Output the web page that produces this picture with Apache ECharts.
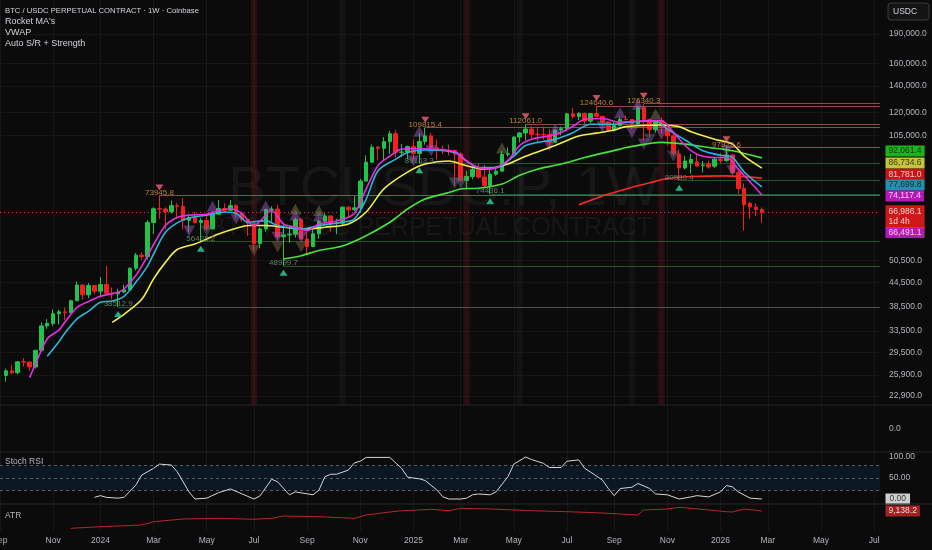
<!DOCTYPE html>
<html><head><meta charset="utf-8">
<script src="https://cdn.jsdelivr.net/npm/echarts@6/dist/echarts.min.js"></script>
<style>html,body{margin:0;padding:0;background:#0b0b0b;}#c{width:932px;height:550px;}</style>
</head><body><div id="c"></div>
<script>
// ---------- DATA ----------
const weekStart = '2023-09-04';
const weekCount = 150;
const MONTHS = ['Jan','Feb','Mar','Apr','May','Jun','Jul','Aug','Sep','Oct','Nov','Dec'];

// weekly candles [open, close, low, high], first one = week of 2023-09-11 (index 1)
const candles = [
[25830,26530,24900,26880],[26530,26250,26000,27480],[26250,27970,26000,28000],[27970,27930,27200,28600],
[27930,27150,26550,28000],[27150,29900,26900,30000],[29900,34500,29700,35200],[34500,35000,33900,35900],
[35000,37050,34500,37950],[37050,37450,34800,37900],[37450,37250,35650,38400],[37250,39950,37150,40200],
[39950,43800,39950,44700],[43800,41370,40200,43900],[41370,43700,40600,44300],[43700,42250,41500,43800],
[42250,43940,40750,45900],[43940,41730,41500,49000],[41730,41580,40280,43200],[41580,42030,38513,42850],
[42030,42580,41800,43880],[42580,48300,42300,48590],[48300,52140,47700,52820],[52140,51730,50630,52980],
[51730,63110,50900,64000],[63110,68360,59000,69000],[68400,68300,64550,73946],[68300,67210,60770,68900],
[67210,69650,66500,71760],[69650,69360,64500,70750],[69360,63920,60660,72800],[63920,64940,59600,66000],
[64940,63120,62800,67200],[63120,63900,56425,64730],[63900,60800,60200,65500],[60800,66270,60750,67400],
[66270,68500,66300,71950],[68500,67760,66600,70600],[67760,69650,67600,71950],[69650,66600,64900,70150],
[66600,64250,63400,67270],[64250,62800,58400,64500],[62800,55850,53500,63800],[55850,60800,54300,61400],
[60800,68150,59800,68350],[68150,68250,63450,69400],[68250,58100,57200,70000],[58100,58700,49000,62700],
[58700,58950,56100,61800],[58950,64200,57800,65000],[64200,57300,57200,64950],[57300,54850,52550,59800],
[54850,59100,54600,60600],[59100,63550,57500,64100],[63550,65600,62700,66500],[65600,62800,59800,65600],
[62800,62850,58900,64500],[62850,69000,62100,69400],[69000,68000,65100,69500],[68000,68750,67500,73600],
[68750,80400,66800,81500],[80400,89800,80200,93400],[89800,98000,89400,99600],[98000,97400,90800,98700],
[97400,101200,90500,104000],[101200,106000,94200,107800],[106000,95100,92200,108300],[95100,95300,92500,99900],
[95300,98300,91300,98900],[98300,94500,91200,102700],[94500,101300,89163,106400],[101300,104700,99500,109815],
[104700,97700,96000,106500],[97700,96500,91200,102500],[96500,96200,94100,98800],[96200,96150,93400,99500],
[96150,94200,78200,96500],[94200,80700,80000,95000],[80700,82600,76600,85300],[82600,86100,81400,87500],
[86100,82300,81600,88800],[82300,78400,77100,88500],[78400,83700,74436,86100],[83700,85200,83000,86500],
[85200,94000,85100,95800],[94000,94300,92800,97900],[94300,104000,93400,104300],[104000,106450,100700,107100],
[106450,109000,102000,112061],[109000,105700,103100,110700],[105700,105600,100400,110400],[105600,105500,102600,110600],
[105500,100900,98200,108900],[100900,108300,100900,108500],[108300,109200,105100,110500],[109200,119100,107500,119500],
[119100,117300,115700,123200],[117300,119400,114700,120200],[119400,114200,111900,119800],[114200,119300,112700,119300],
[119300,117400,116800,124641],[117400,113500,110600,117600],[113500,108300,107300,113600],[108300,111200,107300,113400],
[111200,115300,110600,116800],[115300,115250,114700,117900],[115250,112200,108600,115500],[112200,123500,111600,125500],
[123500,115100,102000,126340],[115100,108600,103500,115900],[108600,114500,106600,114900],[114500,110600,106300,116400],
[110600,104700,98900,110800],[104700,94200,93000,107500],[94200,86800,80580,96600],[86800,90400,86100,93100],
[89300,91300,84000,94200],[90000,87800,87500,94600],[88100,88300,84500,90400],[88800,87300,86500,90500],
[87700,91400,86800,92000],[91400,90600,89300,94800],[90600,93700,90000,97924],[93700,84500,83800,94000],
[84500,77000,74600,86500],[77000,70000,60200,79300],[70600,69100,64500,71300],[69100,68100,65500,70500],
[68100,66986.1,63000,68900]
];

// moving averages: [weekIndex, price]
const maMagenta = [[5,25500],[6,27600],[8,32000],[10,33700],[11,35300],[13,38400],[15,39800],[17,41000],[19,41700],[20,42000],[21,42800],[23,46300],[25,52000],[26,55500],[28,62000],[30,65000],[32,65900],[35,66200],[37,67700],[39,68300],[41,66500],[43,61800],[44,63500],[46,67700],[48,62600],[50,61400],[52,60200],[54,62600],[56,63200],[58,64300],[60,66500],[62,76800],[64,88000],[66,93000],[68,96900],[71,97300],[73,96900],[77,95500],[79,90400],[81,87000],[83,86200],[86,90800],[88,99000],[90,102700],[93,104700],[95,106800],[97,110800],[99,115400],[102,115900],[105,113300],[106,113700],[109,114400],[112,114400],[114,107000],[116,99000],[118,94100],[121,92300],[123,92300],[125,86200],[127,80000],[129,74117.4]];
const maCyan = [[8,28900],[10,31500],[11,33100],[13,35900],[15,37600],[17,39600],[19,39900],[21,41000],[23,44500],[25,49000],[26,52500],[28,59600],[30,63000],[32,64800],[35,65900],[38,67100],[40,66500],[42,63200],[45,63800],[47,62000],[51,60800],[54,62000],[56,62600],[58,63200],[60,64400],[62,72400],[64,85400],[67,91400],[69,95000],[72,96400],[77,95000],[79,90400],[81,87000],[84,87000],[87,93000],[89,99000],[94,102700],[97,106700],[100,112100],[104,112100],[106,113300],[111,114400],[113,108900],[116,102200],[119,96000],[122,93500],[124,92300],[126,84800],[129,77699.8]];
const maYellow = [[19,35200],[21,36900],[24,40300],[26,45400],[28,50000],[30,53900],[33,55700],[35,57300],[37,59000],[40,61000],[42,62000],[45,62000],[48,61400],[52,60800],[55,61400],[59,62600],[62,67100],[65,76800],[69,84700],[72,88800],[76,90400],[79,87900],[82,86200],[86,88800],[89,93000],[94,99000],[98,104600],[101,106400],[104,108400],[106,110500],[112,111600],[115,110500],[117,107300],[121,102700],[124,99800],[126,93000],[129,86734.6]];
const maGreen = [[48,51000],[51,52000],[54,53600],[58,55000],[62,58400],[66,63200],[69,68300],[72,72400],[76,75200],[78,76800],[81,77100],[85,79000],[88,83200],[91,86200],[95,88800],[99,92300],[105,96900],[106,97800],[112,100800],[116,99800],[120,97800],[124,96000],[129,92061.4]];
const maRed = [[98,70000],[102,73700],[106,76800],[110,79600],[113,81600],[117,82600],[123,82900],[129,81781.0]];

// Auto S/R pivots [weekIndex, price]
const pivotHighs = [[27,73945.8],[72,109815.4],[89,112061.0],[101,124640.6],[109,126340.3],[123,97923.6]];
const pivotLows = [[20,38512.9],[34,56425.2],[48,48999.7],[71,89163.3],[83,74436.1],[115,80580.4]];

// Rocket MA signal markers [weekIndex, price]
const sigPurpleUp = [[36,69400],[45,69500],[50,65900],[54,65600],[71,107600],[94,108900],[105,119800],[108,125900]];
const sigPurpleDown = [[32,60100],[40,64400],[47,57900],[51,58000],[70,90400],[73,96000],[93,99000],[102,110500],[107,106800],[109,99800],[112,105800],[123,96000],[124,85400]];
const sigBrownDown = [[43,53600],[47,54700],[51,54700]];
const sigOliveUp = [[50,68300],[54,67700],[85,97500],[111,118800]];
const sigSlateDown = [[35,60100],[77,79500],[78,79500],[110,102700],[114,93000]];

// highlighted weeks
const shadeRedWeeks = [43,79,112];
const shadeGrayWeeks = [58,88,107];

// price axis tick labels
const priceTicks = [190000,160000,140000,120000,105000,50500,44500,38500,33500,29500,25900,22900];
const lastPrice = 66986.1;
const lastPriceTimer = '1d 4h';
const maLastValues = [92061.4, 86734.6, 81781.0, 77699.8, 74117.4];
const vwapLast = 66491.1;

// Stoch RSI [weekIndex, value]
const stochRsi = [[16,4],[17,8],[18,4],[20,2],[21,4],[23,33],[24,57],[26,73],[27,83],[29,81],[30,65],[32,17],[33,0],[35,2],[37,15],[39,24],[41,12],[43,0],[44,7],[46,47],[47,41],[49,10],[50,17],[53,10],[54,21],[55,53],[56,59],[57,59],[59,69],[60,86],[61,90],[62,99],[64,99],[66,99],[68,73],[69,52],[71,48],[72,44],[74,21],[75,5],[76,0],[78,0],[79,2],[80,10],[81,12],[83,10],[84,17],[86,53],[87,83],[89,100],[90,94],[92,85],[93,75],[95,75],[96,90],[98,93],[99,73],[100,64],[102,45],[103,25],[104,8],[105,25],[107,28],[108,37],[110,25],[111,12],[113,10],[115,0],[117,5],[118,8],[120,5],[122,17],[123,32],[124,29],[125,17],[127,2],[129,0]];
const stochLevels = [80,50,20];
const stochTicks = [100,50];
// ATR [weekIndex, value]
const atr = [[12,1230],[17,1970],[24,2740],[26,4250],[31,5480],[37,5800],[43,5350],[46,5800],[48,6860],[54,6540],[60,5800],[62,7310],[65,8360],[68,9280],[71,9600],[73,9920],[76,9280],[78,10370],[83,10050],[90,9280],[96,8820],[101,8360],[105,7770],[108,7310],[109,9600],[113,10050],[115,10830],[117,10370],[120,9600],[123,8820],[124,8680],[126,10050],[129,9138.2]];

// ---------- BUILD ----------
const L = Math.log;
const FONT = '"Liberation Sans", Arial, sans-serif';
const lastIdx = weekCount - 1;
const cats = [];
const t0 = Date.parse(weekStart + 'T00:00:00Z');
for (let i = 0; i < weekCount; i++) cats.push(new Date(t0 + i * 7 * 86400000).toISOString().slice(0, 10));
const isMonthTick = (i) => { const d = new Date(cats[i] + 'T00:00:00Z'); return d.getUTCDate() <= 7 && d.getUTCMonth() % 2 === 0; };
const monthLabel = (v) => { const d = new Date(v + 'T00:00:00Z'); return d.getUTCMonth() === 0 ? String(d.getUTCFullYear()) : MONTHS[d.getUTCMonth()]; };
const fmt = (v, d) => v.toLocaleString('en-US', {minimumFractionDigits: d, maximumFractionDigits: d});
const toLn = (arr) => arr.map(p => [p[0], L(p[1])]);

const yLo = L(21730), yHi = L(231600);

const grids = [
  {left: 0, right: 52, top: 0, height: 405},
  {left: 0, right: 52, top: 405, height: 47},
  {left: 0, right: 52, top: 452, height: 52},
  {left: 0, right: 52, top: 504, height: 27}
].map(g => Object.assign(g, {outerBoundsMode: 'none', containLabel: false}));

const xAxes = grids.map((g, gi) => ({
  type: 'category', gridIndex: gi, data: cats, boundaryGap: false,
  axisLine: {show: false}, axisTick: {show: false},
  axisLabel: gi === 3 ? {show: true, interval: (i) => isMonthTick(i), formatter: monthLabel, color: '#b2b5be', fontSize: 8.5, fontFamily: FONT, margin: 5} : {show: false},
  splitLine: {show: true, interval: (i) => isMonthTick(i), lineStyle: {color: '#171717', width: 1}}
}));

const axLbl = {color: '#b2b5be', fontSize: 8.5, fontFamily: FONT, margin: 9};
const yAxes = [
  {type: 'value', gridIndex: 0, position: 'right', min: yLo, max: yHi, scale: true,
   axisLine: {show: false}, axisTick: {show: false, customValues: priceTicks.map(L)},
   axisLabel: Object.assign({customValues: priceTicks.map(L), formatter: v => fmt(Math.round(Math.exp(v)), 1)}, axLbl),
   splitLine: {show: true, lineStyle: {color: '#161616'}}},
  {type: 'value', gridIndex: 1, position: 'right', min: -1, max: 1,
   axisLine: {show: false}, axisTick: {show: false, customValues: [0]},
   axisLabel: Object.assign({customValues: [0], formatter: () => '0.0'}, axLbl), splitLine: {show: false}},
  {type: 'value', gridIndex: 2, position: 'right', min: -11.9, max: 111.9,
   axisLine: {show: false}, axisTick: {show: false, customValues: stochTicks},
   axisLabel: Object.assign({customValues: stochTicks, formatter: v => v.toFixed(2)}, axLbl), splitLine: {show: false}},
  {type: 'value', gridIndex: 3, position: 'right', min: 0, max: 12340,
   axisLine: {show: false}, axisTick: {show: false}, axisLabel: {show: false}, splitLine: {show: false}}
];

const series = [];

// highlighted week columns
const shade = (weeks, color) => ({type: 'bar', xAxisIndex: 0, yAxisIndex: 0, barWidth: 6, barGap: '-100%', silent: true, z: 1,
  itemStyle: {color}, data: weeks.map(i => [i, yHi])});
series.push(shade(shadeRedWeeks, 'rgba(110,20,32,0.33)'));
series.push(shade(shadeGrayWeeks, 'rgba(70,70,70,0.13)'));

// S/R lines + current price line
const srStyleHigh = {color: 'rgba(225,120,120,0.6)', width: 1, type: 'solid'};
const srStyleLow = {color: 'rgba(60,135,60,0.6)', width: 1, type: 'solid'};
const srData = [];
pivotHighs.forEach(p => srData.push([{coord: [p[0], L(p[1])], lineStyle: srStyleHigh}, {coord: [lastIdx, L(p[1])], lineStyle: srStyleHigh}]));
pivotLows.forEach((p, k) => {
  const st = k === 0 ? {color: 'rgba(120,130,120,0.55)', width: 1, type: 'solid'} : srStyleLow;
  srData.push([{coord: [p[0], L(p[1])], lineStyle: st}, {coord: [lastIdx, L(p[1])], lineStyle: st}]);
});
srData.push({yAxis: L(lastPrice), lineStyle: {color: '#ff2a2a', width: 1, type: [1, 3]}});

series.push({
  type: 'candlestick', xAxisIndex: 0, yAxisIndex: 0, barWidth: 4, z: 3,
  data: candles.map((c, i) => [i + 1, L(c[0]), L(c[1]), L(c[2]), L(c[3])]),
  encode: {x: 0, y: [1, 2, 3, 4]},
  itemStyle: {color: '#22c34a', color0: '#f51f1f', borderColor: '#22c34a', borderColor0: '#f51f1f', borderWidth: 1},
  markLine: {silent: true, symbol: ['none', 'none'], label: {show: false}, z: 2, data: srData}
});

// signal markers
const sig = (arr, up, color) => ({type: 'scatter', xAxisIndex: 0, yAxisIndex: 0, silent: true, z: 4,
  symbol: 'triangle', symbolRotate: up ? 0 : 180, symbolSize: [12, 11], itemStyle: {color}, data: toLn(arr)});
series.push(sig(sigPurpleUp, true, 'rgba(170,95,210,0.55)'));
series.push(sig(sigPurpleDown, false, 'rgba(170,95,210,0.55)'));
series.push(sig(sigBrownDown, false, 'rgba(135,100,70,0.6)'));
series.push(sig(sigOliveUp, true, 'rgba(125,125,85,0.6)'));
series.push(sig(sigSlateDown, false, 'rgba(85,105,130,0.6)'));

// moving averages
const ma = (arr, color, w) => ({type: 'line', xAxisIndex: 0, yAxisIndex: 0, smooth: 0.3, showSymbol: false, silent: true, z: 5,
  lineStyle: {color, width: w}, data: toLn(arr)});
series.push(ma(maRed, '#ff2626', 1.6));
series.push(ma(maGreen, '#48e23c', 1.6));
series.push(ma(maYellow, '#f4ee48', 1.6));
series.push(ma(maCyan, '#2cb5d9', 1.6));
series.push(ma(maMagenta, '#e32ee3', 1.6));

// pivot markers and labels
series.push({type: 'scatter', xAxisIndex: 0, yAxisIndex: 0, silent: true, z: 6, symbol: 'triangle', symbolRotate: 180,
  symbolSize: [8, 6], symbolOffset: [0, -8], itemStyle: {color: '#f2607c'}, data: toLn(pivotHighs)});
series.push({type: 'scatter', xAxisIndex: 0, yAxisIndex: 0, silent: true, z: 6, symbol: 'triangle',
  symbolSize: [8, 6], symbolOffset: [0, 7], itemStyle: {color: '#2ed3a3'}, data: toLn(pivotLows)});
const pivLabel = (arr, color) => ({type: 'scatter', xAxisIndex: 0, yAxisIndex: 0, silent: true, z: 7, symbolSize: 1,
  itemStyle: {color: 'transparent'},
  label: {show: true, position: 'inside', offset: [0, -3], formatter: '{b}', color, fontSize: 8, fontFamily: FONT},
  data: arr.map(p => ({name: p[1].toFixed(1), value: [p[0], L(p[1])]}))});
series.push(pivLabel(pivotHighs, '#e99b3a'));
series.push(pivLabel(pivotLows, '#6f9e78'));

// value tags at the right axis
const tagColors = [['#1fe01f', '#111'], ['#f2f24a', '#111'], ['#ff1414', '#fff'], ['#27b3d6', '#111'], ['#e21ae2', '#fff']];
const tagShift = [-7, -5, -4, -2, 1];
const tagItem = (val, text, bg, fg, dy, pad) => ({value: [lastIdx, val], label: {show: true, formatter: text, backgroundColor: bg, color: fg, offset: [0, dy], padding: pad || [1, 3, 0, 3]}});
const tagSeries = (xi, yi, items) => ({type: 'scatter', xAxisIndex: xi, yAxisIndex: yi, clip: false, silent: true, z: 20, symbolSize: 1,
  itemStyle: {color: 'transparent'},
  label: {show: true, position: 'right', distance: 5, fontSize: 8.5, lineHeight: 10, fontFamily: FONT}, data: items});
const priceTagItems = maLastValues.map((v, k) => tagItem(L(v), fmt(v, 1), tagColors[k][0], tagColors[k][1], tagShift[k]));
priceTagItems.push(tagItem(L(lastPrice), fmt(lastPrice, 1) + '\n' + lastPriceTimer, '#ff1a1a', '#fff', 4.5, [2, 3, 1, 3]));
priceTagItems.push(tagItem(L(vwapLast), fmt(vwapLast, 1), '#e21ae2', '#fff', 19));
series.push(tagSeries(0, 0, priceTagItems));

// Stoch RSI
series.push({type: 'line', xAxisIndex: 2, yAxisIndex: 2, showSymbol: false, silent: true, z: 5,
  lineStyle: {color: '#d6d6d6', width: 1}, data: stochRsi,
  markArea: {silent: true, itemStyle: {color: '#0b1823'}, data: [[{yAxis: stochLevels[2]}, {yAxis: stochLevels[0]}]]},
  markLine: {silent: true, symbol: ['none', 'none'], label: {show: false},
    lineStyle: {color: '#565b66', width: 1, type: [3, 3]}, data: stochLevels.map(v => ({yAxis: v}))}
});
series.push(tagSeries(2, 2, [tagItem(stochRsi[stochRsi.length - 1][1], '0.00', '#ffffff', '#111', 0, [1, 4, 0, 4])]));

// ATR
series.push({type: 'line', xAxisIndex: 3, yAxisIndex: 3, showSymbol: false, silent: true, z: 5,
  lineStyle: {color: '#b3262b', width: 1}, data: atr});
series.push(tagSeries(3, 3, [tagItem(atr[atr.length - 1][1], fmt(atr[atr.length - 1][1], 1), '#c62828', '#fff', 0)]));

// decorations
const txt = (x, y, text, size, color, extra) => Object.assign({type: 'text', x, y, z: 50, silent: true,
  style: {text, font: size + 'px ' + FONT, fill: color, textVerticalAlign: 'middle'}}, extra || {});
const sep = (y) => ({type: 'line', z: 40, silent: true, shape: {x1: 0, y1: y, x2: 932, y2: y}, style: {stroke: '#262626', lineWidth: 1}});
const graphic = [
  {type: 'text', x: 444, y: 190, z: 0, silent: true, style: {text: 'BTCUSDC.P, 1W', font: '56px ' + FONT, fill: 'rgba(255,255,255,0.05)', textAlign: 'center', textVerticalAlign: 'middle'}},
  {type: 'text', x: 652, y: 228, z: 0, silent: true, style: {text: 'BTC / USDC PERPETUAL CONTRACT', font: '25px ' + FONT, fill: 'rgba(255,255,255,0.05)', textAlign: 'right', textVerticalAlign: 'middle'}},
  txt(5, 11, 'BTC / USDC PERPETUAL CONTRACT · 1W · Coinbase', 7.7, '#d1d4dc'),
  txt(5, 22, "Rocket MA's", 9, '#d1d4dc'),
  txt(5, 33, 'VWAP', 9, '#d1d4dc'),
  txt(5, 44, 'Auto S/R + Strength', 9, '#d1d4dc'),
  txt(5, 462, 'Stoch RSI', 8.5, '#b2b5be'),
  txt(5, 516, 'ATR', 8.5, '#b2b5be'),
  sep(405), sep(452), sep(504),
  {type: 'rect', z: 50, silent: true, shape: {x: 888, y: 3, width: 41, height: 17, r: 3}, style: {fill: '#141414', stroke: '#3a3d45', lineWidth: 1}},
  txt(893, 11.5, 'USDC', 8.5, '#d1d4dc')
];

const chart = echarts.init(document.getElementById('c'), null, {renderer: 'canvas'});
chart.setOption({
  backgroundColor: '#0b0b0b', animation: false,
  grid: grids, xAxis: xAxes, yAxis: yAxes, series, graphic
});
</script></body></html>
